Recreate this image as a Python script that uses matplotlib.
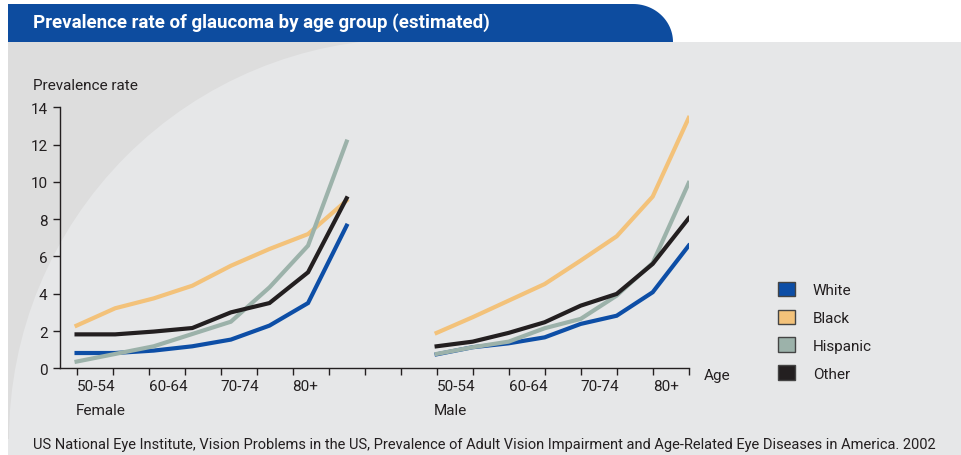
import numpy as np
import matplotlib
matplotlib.use('Agg')
import matplotlib.pyplot as plt
from matplotlib.patches import Rectangle, Circle, Polygon, Patch

plt.rcParams['font.family'] = ['Roboto', 'DejaVu Sans']

# data (prevalence rate, %)
age_labels = ['50-54', '60-64', '70-74', '80+']
groups = ['White', 'Black', 'Hispanic', 'Other']
female = {
    'White':    [0.82, 0.82, 0.95, 1.18, 1.54, 2.29, 3.5, 7.65],
    'Black':    [2.29, 3.22, 3.75, 4.43, 5.5, 6.4, 7.2, 9.0],
    'Hispanic': [0.36, 0.77, 1.18, 1.84, 2.5, 4.34, 6.58, 12.16],
    'Other':    [1.82, 1.82, 1.97, 2.16, 3.0, 3.5, 5.15, 9.12],
}
male = {
    'White':    [0.75, 1.13, 1.34, 1.66, 2.38, 2.82, 4.08, 6.58],
    'Black':    [1.9, 2.74, 3.63, 4.52, 5.78, 7.08, 9.21, 13.43],
    'Hispanic': [0.77, 1.13, 1.43, 2.15, 2.65, 3.9, 5.65, 9.94],
    'Other':    [1.18, 1.43, 1.9, 2.47, 3.36, 3.99, 5.6, 8.05],
}
colors = {'White': '#0d4ea6', 'Black': '#f3c27a', 'Hispanic': '#9cb2aa', 'Other': '#231f20'}
draw_order = ['Black', 'White', 'Hispanic', 'Other']

female_pos = np.arange(8) * 7.5 / 7
male_pos = np.arange(8) + 10

W, H = 961, 456
fig = plt.figure(figsize=(W / 100, H / 100), dpi=100)
fig.patch.set_facecolor('white')

# background decoration in pixel coordinates
bg = fig.add_axes([0, 0, 1, 1])
bg.set_xlim(0, W)
bg.set_ylim(H, 0)
bg.axis('off')
bg.add_patch(Rectangle((8, 43), W - 8, H - 43, facecolor='#dddddd', edgecolor='none'))
bg.add_patch(Circle((409, 440), 400, facecolor='#e6e7e8', edgecolor='none'))
bg.add_patch(Rectangle((409, 43), W - 409, H - 43, facecolor='#e6e7e8', edgecolor='none'))
bg.add_patch(Rectangle((8, 440), W - 8, H - 440, facecolor='#e6e7e8', edgecolor='none'))
t = np.linspace(0, np.pi / 2, 30)
corner = np.column_stack([633 + 40 * np.sin(t), 43 - 38 * np.cos(t)])
banner = np.vstack([[[8, 43], [8, 5], [633, 5]], corner, [[673, 43]]])
bg.add_patch(Polygon(banner, closed=True, facecolor='#0d4c9f', edgecolor='none'))
bg.text(33, 23, 'Prevalence rate of glaucoma by age group (estimated)', color='white',
        fontsize=13.5, fontweight='bold', va='center', ha='left')

ax = fig.add_axes([60 / W, (H - 369.3) / H, (688.7 - 60) / W, 261 / H])
ax.patch.set_alpha(0)
for g in draw_order:
    ax.plot(female_pos, female[g], color=colors[g], lw=3.0, solid_joinstyle='miter')
    ax.plot(male_pos, male[g], color=colors[g], lw=3.0, solid_joinstyle='miter')

ax.set_xlim(-0.46, 17)
ax.set_ylim(0, 14)
ax.set_yticks(range(0, 15, 2))
ticklabels = [''] * 18
for i, lab in enumerate(age_labels):
    ticklabels[2 * i] = lab
    ticklabels[10 + 2 * i] = lab
ax.set_xticks(range(18))
ax.set_xticklabels(ticklabels, ha='left')
ax.spines['top'].set_visible(False)
ax.spines['right'].set_visible(False)
for s in ['left', 'bottom']:
    ax.spines[s].set_color('#231f20')
    ax.spines[s].set_linewidth(1.0)
ax.tick_params(axis='both', direction='out', length=5, width=1.0, color='#231f20',
               labelsize=11, labelcolor='#231f20')
ax.tick_params(axis='y', pad=4)
ax.tick_params(axis='x', pad=3)

fig.text(33 / W, 1 - 86 / H, 'Prevalence rate', fontsize=11, color='#231f20', va='center')
fig.text(76 / W, 1 - 411 / H, 'Female', fontsize=11, color='#231f20', va='center')
fig.text(434 / W, 1 - 411 / H, 'Male', fontsize=11, color='#231f20', va='center')
fig.text(704 / W, 1 - 376 / H, 'Age', fontsize=11, color='#231f20', va='center')
fig.text(33 / W, 1 - 445 / H,
         'US National Eye Institute, Vision Problems in the US, Prevalence of Adult Vision '
         'Impairment and Age-Related Eye Diseases in America. 2002',
         fontsize=10.5, color='#231f20', va='center')

handles = [Patch(facecolor=colors[g], edgecolor='#444444', linewidth=1.0) for g in groups]
fig.legend(handles, groups, loc='upper left', bbox_to_anchor=(764 / W, 1 - 269 / H),
           frameon=False, fontsize=11, handlelength=1.1, handleheight=1.1,
           labelspacing=0.8, handletextpad=1.2, labelcolor='#231f20')

fig.savefig('out.png', dpi=100, facecolor='white')
